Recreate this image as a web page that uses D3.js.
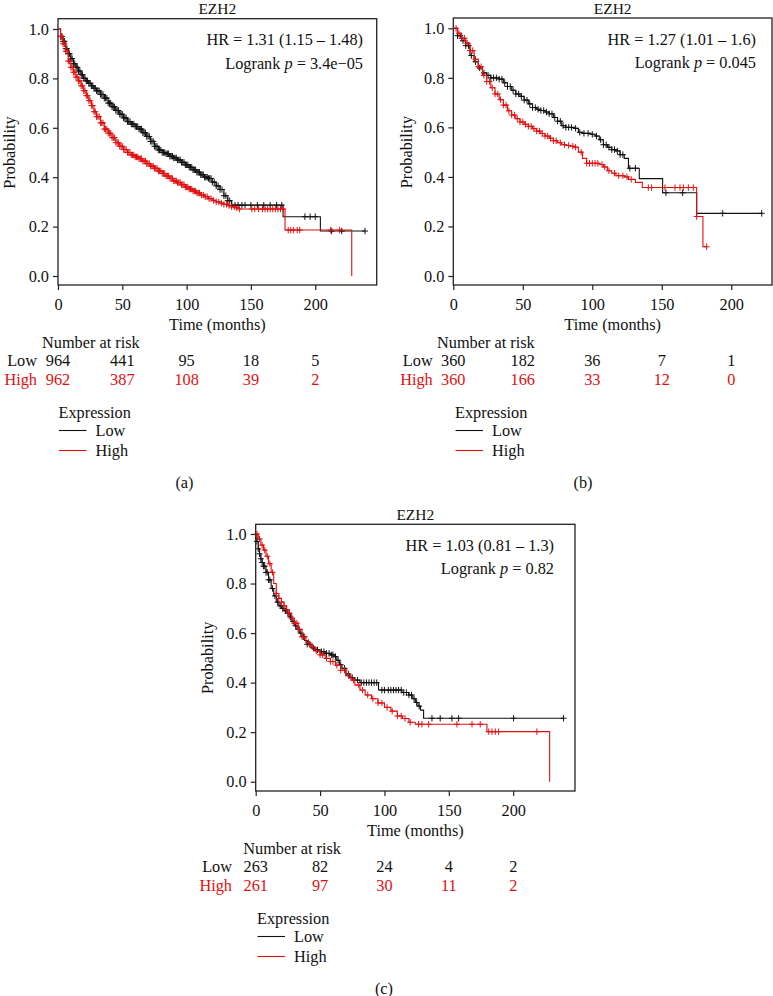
<!DOCTYPE html>
<html>
<head>
<meta charset="utf-8">
<script src="https://cdn.jsdelivr.net/npm/d3@7"></script>
<style>
  html, body { margin: 0; padding: 0; background: #fff; }
  svg text { font-family: "Liberation Serif", "Times New Roman", serif; }
</style>
</head>
<body>
<svg id="chart" width="773" height="996"></svg>
<script>
// ---------------- DATA ----------------
const riskTimes = [0, 50, 100, 150, 200];
const xTicks = [0, 50, 100, 150, 200];
const yTicks = [0, 0.2, 0.4, 0.6, 0.8, 1.0];
const groupLabels = ["Low", "High"];
const chartTitle = "EZH2";

// Panel (a)
const aHR = "HR = 1.31 (1.15 \u2013 1.48)";
const aP = "3.4e\u221205";
const aRiskLow = [964, 441, 95, 18, 5];
const aRiskHigh = [962, 387, 108, 39, 2];
const aLow = [[0,1.0],[2,0.97],[4,0.95],[6,0.92],[8,0.90],[10,0.88],[12,0.86],[14,0.845],[16,0.83],[18,0.815],[20,0.80],[22,0.79],[24,0.78],[26,0.77],[28,0.76],[30,0.75],[33,0.735],[36,0.72],[39,0.70],[42,0.685],[45,0.67],[48,0.655],[51,0.64],[54,0.625],[57,0.615],[60,0.605],[63,0.595],[66,0.58],[69,0.565],[72,0.545],[75,0.525],[78,0.51],[81,0.50],[84,0.495],[87,0.485],[90,0.478],[93,0.47],[96,0.46],[99,0.45],[102,0.44],[105,0.43],[108,0.42],[111,0.41],[114,0.40],[117,0.395],[120,0.38],[123,0.365],[126,0.35],[129,0.325],[132,0.305],[135,0.287],[175,0.24],[204,0.182],[238.7,0.182]];
const aHigh = [[0,1.0],[2,0.97],[4,0.94],[6,0.91],[8,0.87],[10,0.845],[12,0.825],[14,0.805],[16,0.79],[18,0.77],[20,0.75],[22,0.73],[24,0.71],[26,0.69],[28,0.665],[30,0.645],[33,0.62],[36,0.595],[39,0.578],[42,0.56],[45,0.54],[48,0.525],[51,0.512],[54,0.50],[57,0.49],[60,0.482],[63,0.475],[66,0.465],[69,0.455],[72,0.445],[75,0.436],[78,0.425],[81,0.415],[84,0.405],[87,0.395],[90,0.385],[93,0.378],[96,0.37],[99,0.36],[102,0.352],[105,0.344],[108,0.336],[111,0.328],[114,0.321],[117,0.313],[120,0.306],[123,0.30],[126,0.295],[129,0.29],[132,0.285],[135,0.28],[138,0.276],[141,0.271],[176.5,0.186],[228.4,0]];
const aLowCens = [2,3,4,5,6,7,8,9,10,11,12,13,14,15,16,17,18,19,20,21,22,23,24,25,26,27,28,29,30,31,32,33,34,35,36,37,38,39,40,41,42,43,44,45,46,47,48,49,50,51,52,53,54,55,56,57,58,59,60,61,62,63,64,65,66,67,68,69,70,71,72,73,74,75,76,77,78,79,80,81,82,83,84,85,86,87,88,89,90,91,92,93,94,95,96,97,98,99,100,101,102,103,104,105,106,107,108,109,110,111,112,113,114,115,116,117,118,119,120,121.5,123,124.5,126,127.5,129,130.5,132,133.5,135,137.6,140,143,145.4,150,155,160,165,170,174,192,196,200,212.8,220.6,238.7];
const aHighCens = [2,3,4,5,6,7,8,9,10,11,12,13,14,15,16,17,18,19,20,21,22,23,24,25,26,27,28,29,30,31,32,33,34,35,36,37,38,39,40,41,42,43,44,45,46,47,48,49,50,51,52,53,54,55,56,57,58,59,60,61,62,63,64,65,66,67,68,69,70,71,72,73,74,75,76,77,78,79,80,81,82,83,84,85,86,87,88,89,90,91,92,93,94,95,96,97,98,99,100,101,102,103,104,105,106,107,108,109,110,111.5,113,114.5,116,117.5,119,121,123,125,127,129,131,133,135,137,139,141,150.7,153,156,159,161,163,165,167,169,171,173,175,179,181,183,186,188,212,219];

// Panel (b)
const bHR = "HR = 1.27 (1.01 \u2013 1.6)";
const bP = "0.045";
const bRiskLow = [360, 182, 36, 7, 1];
const bRiskHigh = [360, 166, 33, 12, 0];
const bLow = [[0,1.0],[3,0.97],[6,0.95],[9,0.93],[12,0.89],[15,0.865],[18,0.84],[21,0.82],[24,0.81],[27,0.80],[30,0.80],[33,0.795],[36,0.78],[39,0.765],[42,0.75],[45,0.735],[48,0.725],[51,0.71],[54,0.695],[57,0.68],[60,0.673],[63,0.668],[66,0.662],[69,0.655],[72,0.64],[75,0.625],[78,0.607],[81,0.60],[87,0.596],[90,0.58],[93,0.576],[99,0.572],[102,0.565],[105,0.55],[108,0.53],[111,0.52],[114,0.51],[117,0.505],[120,0.49],[123,0.475],[126,0.435],[133.8,0.393],[150.6,0.336],[175.1,0.253],[221.9,0.253]];
const bHigh = [[0,1.0],[3,0.98],[6,0.96],[9,0.94],[12,0.91],[15,0.875],[18,0.845],[21,0.81],[24,0.785],[27,0.76],[30,0.735],[33,0.712],[36,0.69],[39,0.667],[42,0.65],[45,0.635],[48,0.622],[51,0.612],[54,0.604],[57,0.595],[60,0.585],[63,0.575],[66,0.565],[69,0.556],[72,0.546],[75,0.538],[78,0.53],[81,0.527],[84,0.524],[87,0.52],[90,0.50],[93,0.475],[96,0.455],[105,0.45],[108,0.44],[111,0.425],[114,0.415],[117,0.405],[123,0.40],[126,0.39],[131,0.378],[136,0.357],[175.1,0.24],[179.6,0.118],[182.3,0.118]];
const bLowCens = [3,5,7,9,11,13,16,19,22,25,27,29,31,33,35,37,39,41,43,45,47,49,51,53,55,57,59,61,63,65,67,69,71,73,75,77,79,81,83,85,88,91,94,97,100,103,106,108,110,112,114,116,118,120,122,127,131,153,165,193.8,221.9];
const bHighCens = [2,4,6,8,10,12,14,16,18,20,22,24,26,28,30,32,34,36,38,40,42,44,46,48,50,52,54,56,58,60,62,64,66,68,70,72,74,77,80,83,86,88,92,96,98,100,102,104,107,109,112,116,119,122,125,128,140.3,142.7,152.3,159.5,163.1,165.5,169.1,172.7,175.1,182.3];

// Panel (c)
const cHR = "HR = 1.03 (0.81 \u2013 1.3)";
const cP = "0.82";
const cRiskLow = [263, 82, 24, 4, 2];
const cRiskHigh = [261, 97, 30, 11, 2];
const cLow = [[0,1.0],[1,0.97],[2,0.94],[3,0.92],[4,0.90],[5,0.885],[6,0.87],[8,0.845],[10,0.815],[12,0.78],[14,0.75],[16,0.725],[18,0.71],[20,0.70],[22,0.69],[24,0.68],[26,0.665],[28,0.648],[30,0.63],[32,0.615],[34,0.60],[36,0.585],[38,0.57],[40,0.555],[43,0.54],[46,0.532],[50,0.525],[54,0.518],[58,0.512],[61,0.505],[63,0.49],[65,0.472],[67,0.458],[70,0.435],[73,0.42],[77,0.41],[81,0.40],[95.4,0.37],[113.6,0.36],[118.8,0.35],[122,0.335],[124,0.32],[126,0.305],[128,0.289],[130.4,0.256],[239.1,0.256]];
const cHigh = [[0,1.0],[2,0.98],[4,0.955],[6,0.935],[8,0.91],[10,0.88],[12,0.845],[14,0.80],[16,0.76],[18,0.74],[20,0.725],[22,0.71],[24,0.695],[26,0.68],[28,0.66],[30,0.64],[33,0.615],[36,0.585],[39,0.562],[42,0.545],[46,0.528],[50,0.512],[54,0.498],[58,0.485],[62,0.47],[66,0.45],[70,0.428],[74,0.41],[77,0.39],[81,0.37],[85,0.35],[90,0.335],[95,0.318],[100,0.30],[105,0.285],[110,0.265],[114,0.255],[119,0.24],[123.9,0.232],[179.6,0.202],[228.3,0]];
const cLowCens = [1,2,3,4,5,6,7,8,9,10,11,13,15,17,19,21,23,25,27,29,31,33,35,37,40,42,45,48,51,53,55,57,59,60,62,64,66,69,72,75,79,82,84,86,88,90,92,94,98,100,103,105,107,109,111,113,115,117,119,121,123,125,127,136.9,143.3,152.4,157.6,200.3,239.1];
const cHighCens = [1,3,5,7,9,11,13,16,18,20,22,24,26,28,30,32,34,36,38,41,44,47,50,52,55,58,60,63,66,69,72,76,80,83,87,91,95,98,102,106,110,113,116,120,126.5,129.1,134.3,156.3,168,174.4,181,183.5,186.1,188.7,218.4];

// ---------------- LAYOUT ----------------
const COLORS = { low: "#111111", high: "#e01010" };
const FS = 16.3;

const panels = [
  { low: aLow, high: aHigh, lowC: aLowCens, highC: aHighCens, riskLow: aRiskLow, riskHigh: aRiskHigh,
    hr: aHR, p: aP, caption: "(a)",
    x0: 58, x1: 376.7, xMax: 247.8, y1: 29, y0: 276, boxTop: 18.7, boxBottom: 285,
    ylabX: 9.5, rowLabRight: 37, narX: 42, legX: 58.5, capX: 184.5, hrRight: 363 },
  { low: bLow, high: bHigh, lowC: bLowCens, highC: bHighCens, riskLow: bRiskLow, riskHigh: bRiskHigh,
    hr: bHR, p: bP, caption: "(b)",
    x0: 453.3, x1: 772, xMax: 229.3, y1: 28.3, y0: 276, boxTop: 18, boxBottom: 285,
    ylabX: 406, rowLabRight: 432.7, narX: 437, legX: 455, capX: 583, hrRight: 756 },
  { low: cLow, high: cHigh, lowC: cLowCens, highC: cHighCens, riskLow: cRiskLow, riskHigh: cRiskHigh,
    hr: cHR, p: cP, caption: "(c)",
    x0: 255.7, x1: 575, xMax: 248, y1: 534, y0: 781.7, boxTop: 524.3, boxBottom: 791,
    ylabX: 207.5, rowLabRight: 232, narX: 243.3, legX: 257, capX: 384, hrRight: 554 }
];

const svg = d3.select("#chart");

function survAt(curve, t) {
  const i = d3.bisector(d => d[0]).right(curve, t) - 1;
  return curve[Math.max(0, i)][1];
}

function drawPanel(P) {
  const g = svg.append("g");
  const x = d3.scaleLinear().domain([0, P.xMax]).range([P.x0, P.x1]);
  const y = d3.scaleLinear().domain([0, 1]).range([P.y0, P.y1]);

  // box
  g.append("rect").attr("x", P.x0).attr("y", P.boxTop)
    .attr("width", P.x1 - P.x0).attr("height", P.boxBottom - P.boxTop)
    .attr("fill", "none").attr("stroke", "#222").attr("stroke-width", 1.3);

  // x axis
  const xa = g.append("g").attr("transform", `translate(0,${P.boxBottom})`)
    .call(d3.axisBottom(x).tickValues(xTicks).tickSize(5).tickPadding(7).tickFormat(d3.format("d")));
  xa.select(".domain").remove();
  xa.selectAll("line").attr("stroke", "#222").attr("stroke-width", 1.2);
  xa.selectAll("text").attr("font-size", FS).attr("fill", "#111").attr("y", null).attr("dy", null)
    .attr("transform", `translate(0,${19})`).attr("dominant-baseline", "central");

  // y axis
  const ya = g.append("g").attr("transform", `translate(${P.x0},0)`)
    .call(d3.axisLeft(y).tickValues(yTicks).tickSize(5).tickPadding(4).tickFormat(d3.format(".1f")));
  ya.select(".domain").remove();
  ya.selectAll("line").attr("stroke", "#222").attr("stroke-width", 1.2);
  ya.selectAll("text").attr("font-size", FS).attr("fill", "#111");

  // axis labels
  g.append("text").attr("transform", `translate(${P.ylabX},${(P.y0 + P.y1) / 2}) rotate(-90)`)
    .attr("text-anchor", "middle").attr("dominant-baseline", "central")
    .attr("font-size", FS).attr("fill", "#111").text("Probability");
  g.append("text").attr("x", (P.x0 + P.x1) / 2).attr("y", P.boxBottom + 39)
    .attr("text-anchor", "middle").attr("dominant-baseline", "central")
    .attr("font-size", FS).attr("fill", "#111").text("Time (months)");

  // title
  g.append("text").attr("x", (P.x0 + P.x1) / 2).attr("y", P.boxTop - 4.3)
    .attr("text-anchor", "middle").attr("font-size", 15.5).attr("fill", "#111").text(chartTitle);

  // HR and p
  g.append("text").attr("x", P.hrRight).attr("y", P.boxTop + 26.5)
    .attr("text-anchor", "end").attr("font-size", FS).attr("fill", "#111").text(P.hr);
  const lt = g.append("text").attr("x", P.hrRight).attr("y", P.boxTop + 50)
    .attr("text-anchor", "end").attr("font-size", FS).attr("fill", "#111");
  lt.append("tspan").text("Logrank ");
  lt.append("tspan").attr("font-style", "italic").text("p");
  lt.append("tspan").text(" = " + P.p);

  // curves
  const line = d3.line().x(d => x(d[0])).y(d => y(d[1])).curve(d3.curveStepAfter);
  const series = [
    { curve: P.low, cens: P.lowC, color: COLORS.low },
    { curve: P.high, cens: P.highC, color: COLORS.high }
  ];
  series.forEach(s => {
    g.append("path").datum(s.curve).attr("d", line)
      .attr("fill", "none").attr("stroke", s.color).attr("stroke-width", 1.1);
    g.append("g").selectAll("path").data(s.cens).join("path")
      .attr("transform", t => `translate(${x(t)},${y(survAt(s.curve, t))})`)
      .attr("d", "M-3,0H3M0,-3.2V3.2")
      .attr("stroke", s.color).attr("stroke-width", 1).attr("fill", "none");
  });

  // risk table
  const B = P.boxBottom;
  g.append("text").attr("x", P.narX).attr("y", B + 57).attr("dominant-baseline", "central")
    .attr("font-size", FS).attr("fill", "#111").text("Number at risk");
  const rows = [
    { label: groupLabels[0], vals: P.riskLow, color: COLORS.low, dy: 75 },
    { label: groupLabels[1], vals: P.riskHigh, color: COLORS.high, dy: 94 }
  ];
  rows.forEach(r => {
    g.append("text").attr("x", P.rowLabRight).attr("y", B + r.dy).attr("text-anchor", "end")
      .attr("dominant-baseline", "central").attr("font-size", FS).attr("fill", r.color).text(r.label);
    g.append("g").selectAll("text").data(r.vals).join("text")
      .attr("x", (d, i) => x(riskTimes[i])).attr("y", B + r.dy)
      .attr("text-anchor", "middle").attr("dominant-baseline", "central")
      .attr("font-size", FS).attr("fill", r.color).text(d => d);
  });

  // legend
  g.append("text").attr("x", P.legX).attr("y", B + 127).attr("dominant-baseline", "central")
    .attr("font-size", FS).attr("fill", "#111").text("Expression");
  const legs = [
    { label: groupLabels[0], color: COLORS.low, dy: 145.5 },
    { label: groupLabels[1], color: COLORS.high, dy: 165.5 }
  ];
  legs.forEach(l => {
    g.append("line").attr("x1", P.legX + 0.5).attr("x2", P.legX + 28)
      .attr("y1", B + l.dy).attr("y2", B + l.dy).attr("stroke", l.color).attr("stroke-width", 1.1);
    g.append("text").attr("x", P.legX + 37).attr("y", B + l.dy).attr("dominant-baseline", "central")
      .attr("font-size", FS).attr("fill", "#111").text(l.label);
  });

  // caption
  g.append("text").attr("x", P.capX).attr("y", B + 197).attr("text-anchor", "middle")
    .attr("dominant-baseline", "central").attr("font-size", FS).attr("fill", "#111").text(P.caption);
}

panels.forEach(drawPanel);
</script>
</body>
</html>
